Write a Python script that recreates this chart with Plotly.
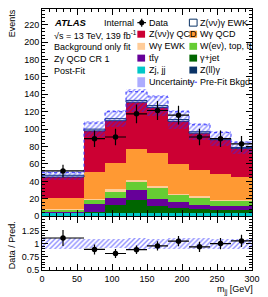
import numpy as np
import plotly.graph_objects as go

# ---------------- data ----------------
bin_edges = [0, 60, 90, 120, 150, 180, 210, 240, 270, 300]
data_counts = [52, 89, 91, 117.6, 121.4, 116, 91, 89, 83]

zll_gamma = [0.3, 0.5, 0.5, 0.5, 0.5, 0.5, 0.5, 0.5, 0.5]
zj_jj = [3.4, 3.0, 3.2, 3.2, 3.2, 3.2, 3.2, 3.2, 3.2]
gamma_jet = [0.5, 1.0, 9.0, 15.4, 7.8, 6.0, 4.5, 4.0, 4.0]
ttgamma = [0.5, 9.0, 7.7, 10.7, 8.0, 6.5, 4.4, 3.8, 3.8]
wenu_top = [3.0, 5.0, 7.5, 9.5, 13.4, 7.6, 8.8, 6.1, 6.1]
wgamma_ewk = [0.5, 1.5, 2.8, 2.7, 1.5, 1.9, 1.5, 1.5, 1.4]
wgamma_qcd = [13.2, 31.0, 30.0, 35.5, 38.6, 34.3, 30.6, 29.0, 26.0]
znunu_qcd = [23.6, 47.0, 49.0, 53.5, 52.0, 49.0, 41.9, 39.8, 33.0]
znunu_ewk = [2.0, 2.0, 2.3, 2.0, 2.0, 2.0, 1.6, 1.1, 1.0]
uncertainty = [5.2, 9.0, 10.0, 13.0, 12.0, 11.0, 9.5, 8.5, 7.5]
prefit_bkg = [50, 107, 120, 143, 137, 120, 105, 96, 85]

y_ticks_main = list(range(0, 240, 20))
y_ticks_ratio = [0.5, 0.75, 1, 1.25]
y_ticks_ratio_text = ["0.5", "0.75", "1", "1.25"]
x_ticks = [0, 50, 100, 150, 200, 250, 300]

layers = [
    ("Z(ll)γ", zll_gamma, "#0a3366", None),
    ("Zj, jj", zj_jj, "#00c8c8", None),
    ("γ+jet", gamma_jet, "#006600", None),
    ("tt̄γ", ttgamma, "#660099", None),
    ("W(eν), top, tt̄", wenu_top, "#66cc33", None),
    ("Wγ EWK", wgamma_ewk, "#ffcc99", None),
    ("Wγ QCD", wgamma_qcd, "#ff9933", None),
    ("Z(νν)γ QCD", znunu_qcd, "#cc0033", None),
    ("Z(νν)γ EWK", znunu_ewk, "#ffffff", "#0a3366"),
]

# ---------------- geometry ----------------
W, H = 268, 297
ML, MR, MT, MB = 42, 8, 8, 27
PW, PH = W - ML - MR, H - MT - MB


def px(x):
    return (x - ML) / PW


def py(y):
    return (H - MB - y) / PH


edges = np.array(bin_edges, dtype=float)
centers = (edges[:-1] + edges[1:]) / 2
widths = np.diff(edges)

fig = go.Figure()

base = np.zeros(len(centers))
for name, vals, col, line in layers:
    v = np.array(vals, dtype=float)
    fig.add_trace(go.Bar(
        x=centers, y=v, base=base.copy(), width=widths,
        marker=dict(color=col, line=dict(color=line or col, width=1 if line else 0)),
        opacity=1, showlegend=False, xaxis="x", yaxis="y", name=name,
    ))
    base = base + v
total = base.copy()
unc = np.array(uncertainty, dtype=float)

hatch = dict(shape="/", fgcolor="rgba(40,40,255,1)", bgcolor="rgba(0,0,0,0)",
             size=3.5, solidity=0.42, fillmode="overlay")

fig.add_trace(go.Bar(
    x=centers, y=2 * unc, base=total - unc, width=widths,
    marker=dict(color="rgba(0,0,0,0)", line=dict(width=0), pattern=hatch),
    showlegend=False, xaxis="x", yaxis="y",
))

# pre-fit line (step)
pf = np.array(prefit_bkg, dtype=float)
fig.add_trace(go.Scatter(
    x=edges, y=np.append(pf, pf[-1]), mode="lines", line_shape="hv",
    line=dict(color="#3333ff", width=1, dash="dot"), showlegend=False,
    xaxis="x", yaxis="y",
))

d = np.array(data_counts, dtype=float)
fig.add_trace(go.Scatter(
    x=centers, y=d, mode="markers",
    marker=dict(color="black", size=5.5),
    error_x=dict(type="data", array=widths / 2, width=0, thickness=1.2, color="black"),
    error_y=dict(type="data", array=np.sqrt(d), width=0, thickness=1.2, color="black"),
    showlegend=False, xaxis="x", yaxis="y",
))

# ratio panel
rel = unc / total
fig.add_trace(go.Bar(
    x=centers, y=2 * rel, base=1 - rel, width=widths,
    marker=dict(color="rgba(0,0,0,0)", line=dict(width=0), pattern=hatch),
    showlegend=False, xaxis="x2", yaxis="y2",
))
fig.add_trace(go.Scatter(
    x=centers, y=d / total, mode="markers",
    marker=dict(color="black", size=5.5),
    error_x=dict(type="data", array=widths / 2, width=0, thickness=1.2, color="black"),
    error_y=dict(type="data", array=np.sqrt(d) / total, width=0, thickness=1.2, color="black"),
    showlegend=False, xaxis="x2", yaxis="y2",
))

FONT = "Liberation Sans, Arial, Helvetica, sans-serif"
axis_common = dict(
    showline=True, linecolor="black", linewidth=1, mirror="allticks",
    ticks="inside", tickcolor="black", showgrid=False, zeroline=False,
    tickfont=dict(family=FONT, size=9, color="black"),
)

fig.update_layout(
    width=W, height=H, margin=dict(l=ML, r=MR, t=MT, b=MB),
    paper_bgcolor="white", plot_bgcolor="white",
    barmode="overlay", bargap=0, hovermode=False,
    xaxis=dict(domain=[0, 1], range=[0, 300], anchor="y", tickvals=x_ticks,
               showticklabels=False, ticklen=6,
               minor=dict(ticks="inside", ticklen=3, dtick=10, tickcolor="black"),
               **axis_common),
    yaxis=dict(domain=[py(216), 1], range=[0, 238], anchor="x", tickvals=y_ticks_main,
               ticklen=6, minor=dict(ticks="inside", ticklen=3, dtick=4, tickcolor="black"),
               **axis_common),
    xaxis2=dict(domain=[0, 1], range=[0, 300], anchor="y2", tickvals=x_ticks, matches="x",
                ticklen=6, minor=dict(ticks="inside", ticklen=3, dtick=10, tickcolor="black"),
                **axis_common),
    yaxis2=dict(domain=[0, py(217)], range=[0.5, 1.5], anchor="x2",
                tickvals=y_ticks_ratio, ticktext=y_ticks_ratio_text, ticklen=6,
                minor=dict(ticks="inside", ticklen=3, dtick=0.05, tickcolor="black"),
                **axis_common),
    font=dict(family=FONT, size=9, color="black"),
)

ann = []


def text(x, y, s, size=9, xanchor="left", angle=0, yanchor="middle"):
    ann.append(dict(x=px(x), y=py(y), xref="paper", yref="paper", text=s, showarrow=False,
                    xanchor=xanchor, yanchor=yanchor, textangle=angle,
                    font=dict(family=FONT, size=size, color="black")))


text(52, 22, "<b><i>ATLAS</i></b>", size=9.5)
text(104, 22, "Internal")
text(52, 34, "√s = 13 TeV, 139 fb<sup>-1</sup>")
text(52, 46, "Background only fit")
text(52, 58, "Zγ QCD CR 1")
text(52, 70, "Post-Fit")
text(11, 6, "Events", angle=-90, xanchor="center", yanchor="top")
text(11, 245, "Data / Pred.", angle=-90, xanchor="center")
text(263, 290, "m<sub>jj</sub> [GeV]", xanchor="right")

shapes = []
rows = [21.7, 33.3, 45.5, 57.3, 69.3, 81.5]
lx_box, lx_txt = 141, 151
rx_box, rx_txt = 195, 204
legend_entries = [
    (0, "L", "data", None, None, "Data"),
    (0, "R", "box", "#ffffff", "#0a3366", "Z(νν)γ EWK"),
    (1, "L", "box", "#cc0033", None, "Z(νν)γ QCD"),
    (1, "R", "box", "#ff9933", None, "Wγ QCD"),
    (2, "L", "box", "#ffcc99", None, "Wγ EWK"),
    (2, "R", "box", "#66cc33", None, "W(eν), top, tt̄"),
    (3, "L", "box", "#660099", None, "tt̄γ"),
    (3, "R", "box", "#006600", None, "γ+jet"),
    (4, "L", "box", "#00c8c8", None, "Zj, jj"),
    (4, "R", "box", "#0a3366", None, "Z(ll)γ"),
    (5, "L", "hatch", None, None, "Uncertainty"),
    (5, "R", "dot", None, None, "Pre-Fit Bkgd."),
]
for r, side, kind, fill, line, label in legend_entries:
    xt = lx_txt if side == "L" else rx_txt
    text(xt, rows[r], label)

for r, side, kind, fill, line, label in legend_entries:
    yc = rows[r]
    xb = lx_box if side == "L" else rx_box
    if kind == "box":
        shapes.append(dict(type="rect", xref="paper", yref="paper",
                           x0=px(xb), x1=px(xb + 8), y0=py(yc + 3.5), y1=py(yc - 3.5),
                           fillcolor=fill, line=dict(color=line or fill, width=1 if line else 0),
                           layer="above"))
    elif kind == "hatch":
        shapes.append(dict(type="rect", xref="paper", yref="paper",
                           x0=px(xb), x1=px(xb + 8), y0=py(yc + 5), y1=py(yc - 5),
                           fillcolor="rgba(90,90,255,0.5)", line=dict(width=0), layer="above"))
    elif kind == "dot":
        shapes.append(dict(type="line", xref="paper", yref="paper",
                           x0=px(xb - 1), x1=px(xb + 8), y0=py(yc), y1=py(yc),
                           line=dict(color="#3333ff", width=1, dash="dot"), layer="above"))
    elif kind == "data":
        xc = xb + 4.5
        shapes.append(dict(type="line", xref="paper", yref="paper",
                           x0=px(xb), x1=px(xb + 9), y0=py(yc), y1=py(yc),
                           line=dict(color="black", width=1.2), layer="above"))
        shapes.append(dict(type="line", xref="paper", yref="paper",
                           x0=px(xc), x1=px(xc), y0=py(yc - 4), y1=py(yc + 4),
                           line=dict(color="black", width=1.2), layer="above"))
        shapes.append(dict(type="circle", xref="paper", yref="paper",
                           x0=px(xc - 2.6), x1=px(xc + 2.6), y0=py(yc + 2.6), y1=py(yc - 2.6),
                           fillcolor="black", line=dict(width=0), layer="above"))

fig.update_layout(annotations=ann, shapes=shapes)
fig.write_html(
    "out.html",
    config={"displayModeBar": False, "staticPlot": True},
    post_script="document.body.style.margin='0';document.body.style.overflow='hidden';",
)
